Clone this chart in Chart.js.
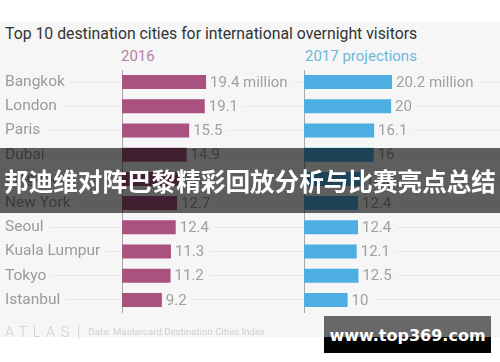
<!DOCTYPE html>
<html>
<head>
<meta charset="utf-8">
<script src="https://cdn.jsdelivr.net/npm/chart.js@4/dist/chart.umd.min.js"></script>
<style>
  body { margin: 0; background: #fff; }
  #wrap { position: relative; width: 500px; height: 362px; overflow: hidden; background: #fff; font-family: Roboto, "Noto Sans", sans-serif; }
  #panel { position: absolute; left: 0; top: 22px; width: 500px; height: 315px; background: #f6f6f6; }
  #title { position: absolute; left: 5px; top: 24px; font-size: 15.8px; color: #333; white-space: nowrap; }
  .sub { position: absolute; top: 47px; font-size: 15px; white-space: nowrap; }
  canvas { position: absolute; }
  #foot { position: absolute; left: 5px; top: 321px; color: #cfcfcf; white-space: nowrap; }
  #banner { position: absolute; left: 0; top: 148px; width: 500px; height: 65px; background: rgba(0,0,0,0.62); color: #fff;
            font-family: "Noto Sans CJK SC", sans-serif; font-weight: 700; font-size: 24.6px; line-height: 65px; text-align: center; white-space: nowrap; }
  #mark { position: absolute; left: 324px; top: 316px; width: 167px; height: 37px;
          background: linear-gradient(#686868 0, #686868 58%, #030303 58%, #030303 100%);
          color: #fff; font-family: "DejaVu Sans", sans-serif; font-weight: 700; font-size: 16px; line-height: 40px; text-align: center; }
</style>
</head>
<body>
<div id="wrap">
  <div id="panel"></div>
  <div id="title">Top 10 destination cities for international overnight visitors</div>
  <div class="sub" style="left:121px;color:#b67fa8">2016</div>
  <div class="sub" style="left:305px;color:#6cb8d9">2017 projections</div>
  <canvas id="left" width="304" height="262" style="left:0;top:60px"></canvas>
  <canvas id="right" width="196" height="262" style="left:304px;top:60px"></canvas>
  <div id="foot"><span style="font-size:14.5px;letter-spacing:5.5px;font-weight:300">ATLAS</span><span style="font-size:17px;font-weight:300;margin:0 8px 0 2px">|</span><span style="font-size:9.6px;position:relative;top:-2px">Data: Mastercard Destination Cities Index</span></div>
  <div id="banner">邦迪维对阵巴黎精彩回放分析与比赛亮点总结</div>
  <div id="mark">www.top369.com</div>
</div>
<script>
const cities = ['Bangkok', 'London', 'Paris', 'Dubai', 'Singapore', 'New York', 'Seoul', 'Kuala Lumpur', 'Tokyo', 'Istanbul'];
const visitors2016 = [19.4, 19.1, 15.5, 14.9, 13.1, 12.7, 12.4, 11.3, 11.2, 9.2];
const visitors2017 = [20.2, 20, 16.1, 16, 13.2, 12.4, 12.4, 12.1, 12.5, 10];

const bgGray = '#f6f6f6';

// value text after each bar, first row gets the unit
const valueLabels = {
    id: 'valueLabels',
    afterDatasetsDraw(chart) {
        const ctx = chart.ctx;
        const values = chart.data.datasets[0].data;
        ctx.save();
        ctx.font = '15px Roboto';
        ctx.textBaseline = 'middle';
        chart.getDatasetMeta(0).data.forEach((bar, i) => {
            const txt = i === 0 ? values[i] + ' million' : String(values[i]);
            const w = ctx.measureText(txt).width;
            ctx.fillStyle = bgGray;
            ctx.fillRect(bar.x + 1, bar.y - 9, w + 8, 18);
            ctx.fillStyle = '#a0a0a0';
            ctx.fillText(txt, bar.x + 4, bar.y + 1);
        });
        ctx.restore();
    }
};

function makePanel(id, values, color, max, showNames) {
    return new Chart(document.getElementById(id), {
        type: 'bar',
        data: {
            labels: cities,
            datasets: [{
                data: values,
                backgroundColor: color,
                borderWidth: 0,
                categoryPercentage: 1,
                barPercentage: 0.58
            }]
        },
        options: {
            indexAxis: 'y',
            responsive: false,
            animation: false,
            devicePixelRatio: 1,
            layout: { padding: { left: showNames ? 5 : 0, right: 0, top: 10, bottom: 10 } },
            plugins: { legend: { display: false }, tooltip: { enabled: false } },
            scales: {
                x: { display: false, min: 0, max: max },
                y: {
                    afterFit(scale) { scale.width = showNames ? 117 : 0; },
                    grid: { offset: false, color: '#e9e9e9', tickLength: showNames ? 117 : 0, drawTicks: showNames },
                    border: { display: true, color: '#a8a8a8', width: 1 },
                    ticks: {
                        display: showNames,
                        crossAlign: 'far',
                        padding: 0,
                        color: '#9a9a9a',
                        font: { family: 'Roboto', size: 15.5 },
                        showLabelBackdrop: true,
                        backdropColor: bgGray,
                        backdropPadding: { top: 0, bottom: 0, left: 0, right: 5 }
                    }
                }
            }
        },
        plugins: [valueLabels]
    });
}

makePanel('left', visitors2016, '#a9527f', 42, true);
makePanel('right', visitors2017, '#4daee2', 45, false);
</script>
</body>
</html>
